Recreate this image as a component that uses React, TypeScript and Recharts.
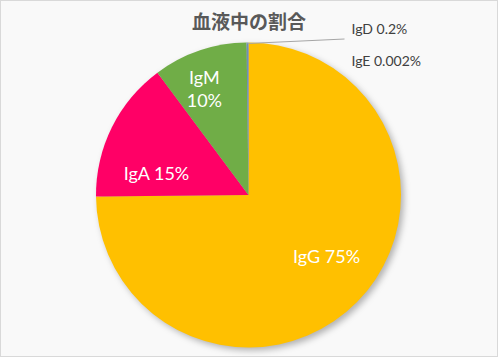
import { PieChart, Pie, Cell } from 'recharts'

const NAMES = ['IgG', 'IgA', 'IgM', 'IgD', 'IgE']
const VALUES = [75, 15, 10, 0.2, 0.002]
const COLORS = ['#FFC000', '#FF0066', '#70AD47', '#6F8FB8', '#264478']

const data = NAMES.map((name, i) => ({ name, value: VALUES[i] }))
const total = VALUES.reduce((a, b) => a + b, 0)
const shadowData = [{ name: 'all', value: total }]

const RAD = Math.PI / 180

// label placement tweaks (radius factor, angle offset), Excel "best fit" style
const INSIDE: Record<string, { f: number; da: number; wrap?: boolean }> = {
  IgG: { f: 0.65, da: 6.7 },
  IgA: { f: 0.62, da: 13 },
  IgM: { f: 0.75, da: 4, wrap: true },
}
const OUTSIDE: Record<string, { dx: number; dy: number; line?: boolean }> = {
  IgD: { dx: 103, dy: -167, line: true },
  IgE: { dx: 103, dy: -135 },
}

const renderLabel = (p: any) => {
  const { cx, cy, midAngle, outerRadius, name, value } = p
  const text = `${name} ${value}%`
  const ins = INSIDE[name]
  if (ins) {
    const a = (midAngle + ins.da) * RAD
    const x = cx + outerRadius * ins.f * Math.cos(a)
    const y = cy - outerRadius * ins.f * Math.sin(a)
    if (ins.wrap) {
      return (
        <text x={x} y={y} fill="#fff" fontSize={18} fontFamily="Lato" textAnchor="middle">
          <tspan x={x} dy={-5}>{name}</tspan>
          <tspan x={x} dy={23}>{value}%</tspan>
        </text>
      )
    }
    return (
      <text x={x} y={y} fill="#fff" fontSize={18} fontFamily="Lato" textAnchor="middle" dominantBaseline="central">
        {text}
      </text>
    )
  }
  const out = OUTSIDE[name]
  if (!out) return null
  const a = midAngle * RAD
  const sx = cx + outerRadius * Math.cos(a)
  const sy = cy - outerRadius * Math.sin(a)
  return (
    <g>
      {out.line && <line x1={sx} y1={sy + 1} x2={cx + out.dx - 7} y2={cy + out.dy + 11} stroke="#a6a6a6" strokeWidth={1} />}
      <text x={cx + out.dx} y={cy + out.dy} fill="#404040" fontSize={14} fontFamily="Lato" dominantBaseline="central">
        {text}
      </text>
    </g>
  )
}

export default function App() {
  return (
    <div
      style={{
        position: 'absolute', left: 0, top: 0, width: 498, height: 357, boxSizing: 'border-box',
        background: '#f9f9f9', border: '1px solid #d9d9d9', overflow: 'hidden',
      }}
    >
      <div
        style={{
          position: 'absolute', left: 0, right: 0, top: 6, textAlign: 'center',
          fontFamily: '"Noto Sans CJK JP", sans-serif', fontWeight: 700, fontSize: 19, color: '#595959',
        }}
      >
        血液中の割合
      </div>
      <PieChart width={496} height={355} margin={{ top: 0, right: 0, bottom: 0, left: 0 }} style={{ position: 'absolute', left: 0, top: 0 }}>
        <defs>
          <filter id="pie-shadow" x="-20%" y="-20%" width="140%" height="140%">
            <feGaussianBlur in="SourceAlpha" stdDeviation="3" result="blur" />
            <feOffset dx="3" dy="3" in="blur" result="off" />
            <feFlood floodColor="#000" floodOpacity="0.28" result="col" />
            <feComposite in="col" in2="off" operator="in" />
          </filter>
        </defs>
        <Pie
          data={shadowData}
          dataKey="value"
          cx={247.5}
          cy={194}
          outerRadius={152.5}
          startAngle={90}
          endAngle={-270}
          stroke="none"
          isAnimationActive={false}
          filter="url(#pie-shadow)"
          fill="#000"
        />
        <Pie
          data={data}
          dataKey="value"
          nameKey="name"
          cx={247.5}
          cy={194}
          outerRadius={152.5}
          startAngle={90}
          endAngle={-270}
          stroke="none"
          isAnimationActive={false}
          labelLine={false}
          label={renderLabel}
        >
          {data.map((d, i) => (
            <Cell key={d.name} fill={COLORS[i]} />
          ))}
        </Pie>
      </PieChart>
    </div>
  )
}
